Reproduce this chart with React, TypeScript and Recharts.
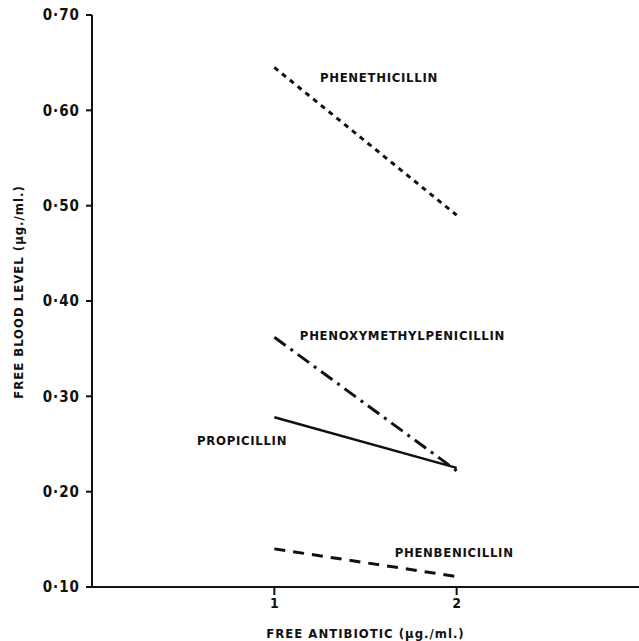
import { LineChart, Line, XAxis, YAxis, ReferenceDot } from "recharts";

// free antibiotic (µg./ml.)
const doses = [1, 2];

// free blood level (µg./ml.) per drug
const phenethicillin = [0.645, 0.49];
const phenoxymethylpenicillin = [0.362, 0.222];
const propicillin = [0.278, 0.225];
const phenbenicillin = [0.14, 0.111];

const yTicks = [0.1, 0.2, 0.3, 0.4, 0.5, 0.6, 0.7];
const xTicks = [1, 2];

const FONT = "'DejaVu Sans Condensed', 'DejaVu Sans', sans-serif";

const data = doses.map((d, i) => ({
  dose: d,
  phenethicillin: phenethicillin[i],
  phenoxy: phenoxymethylpenicillin[i],
  propicillin: propicillin[i],
  phenbenicillin: phenbenicillin[i],
}));

// text anchored at its left edge, vertically centred on the point
const tag = (text: string) => (props: any) => {
  const vb = props.viewBox || {};
  const x = (vb.x ?? 0) + (vb.width ?? 0) / 2;
  const y = (vb.y ?? 0) + (vb.height ?? 0) / 2;
  return (
    <text
      x={x}
      y={y}
      fontFamily={FONT}
      fontWeight="bold"
      fontSize={13}
      letterSpacing={0.7}
      fill="#111"
      dominantBaseline="central"
    >
      {text}
    </text>
  );
};

// rotated y axis title, centred beside the plot
const yTitle = (props: any) => {
  const vb = props.viewBox || {};
  const x = (vb.x ?? 0) + 18;
  const y = (vb.y ?? 0) + (vb.height ?? 0) / 2 - 9;
  return (
    <text
      x={x}
      y={y}
      transform={`rotate(-90 ${x} ${y})`}
      textAnchor="middle"
      dominantBaseline="central"
      fontFamily={FONT}
      fontWeight="bold"
      fontSize={13}
      letterSpacing={1}
      fill="#111"
    >
      FREE BLOOD LEVEL (μg./ml.)
    </text>
  );
};

export default function App() {
  return (
    <div style={{ position: "absolute", left: 0, top: 0, background: "#fff" }}>
      <LineChart
        width={639}
        height={641}
        data={data}
        margin={{ top: 15, right: 0, bottom: 0, left: 0 }}
      >
        <XAxis
          dataKey="dose"
          type="number"
          domain={[0, 3]}
          ticks={xTicks}
          height={54}
          stroke="#111"
          strokeWidth={2}
          tickSize={8}
          tickMargin={3}
          tick={{ fill: "#111", fontSize: 14, fontWeight: "bold", fontFamily: FONT }}
          label={{
            value: "FREE ANTIBIOTIC (μg./ml.)",
            position: "insideBottom",
            offset: 3,
            fill: "#111",
            fontSize: 13,
            fontWeight: "bold",
            fontFamily: FONT,
            letterSpacing: 1,
          }}
        />
        <YAxis
          type="number"
          domain={[0.1, 0.7]}
          ticks={yTicks}
          width={92}
          stroke="#111"
          strokeWidth={2}
          tickSize={6}
          tickMargin={6}
          tickFormatter={(v: number) => v.toFixed(2).replace(".", "·")}
          tick={{ fill: "#111", fontSize: 15, fontWeight: "bold", fontFamily: FONT, letterSpacing: 1 }}
          label={yTitle}
        />
        <Line
          dataKey="phenethicillin"
          stroke="#111"
          strokeWidth={3}
          strokeDasharray="5 5"
          dot={false}
          isAnimationActive={false}
        />
        <Line
          dataKey="phenoxy"
          stroke="#111"
          strokeWidth={3}
          strokeDasharray="14 6 3 6"
          dot={false}
          isAnimationActive={false}
        />
        <Line
          dataKey="propicillin"
          stroke="#111"
          strokeWidth={2.5}
          dot={false}
          isAnimationActive={false}
        />
        <Line
          dataKey="phenbenicillin"
          stroke="#111"
          strokeWidth={3}
          strokeDasharray="11 8"
          dot={false}
          isAnimationActive={false}
        />
        <ReferenceDot x={1.25} y={0.634} r={0} fill="none" stroke="none" label={tag("PHENETHICILLIN")} />
        <ReferenceDot x={1.14} y={0.364} r={0} fill="none" stroke="none" label={tag("PHENOXYMETHYLPENICILLIN")} />
        <ReferenceDot x={0.576} y={0.254} r={0} fill="none" stroke="none" label={tag("PROPICILLIN")} />
        <ReferenceDot x={1.66} y={0.136} r={0} fill="none" stroke="none" label={tag("PHENBENICILLIN")} />
      </LineChart>
    </div>
  );
}
